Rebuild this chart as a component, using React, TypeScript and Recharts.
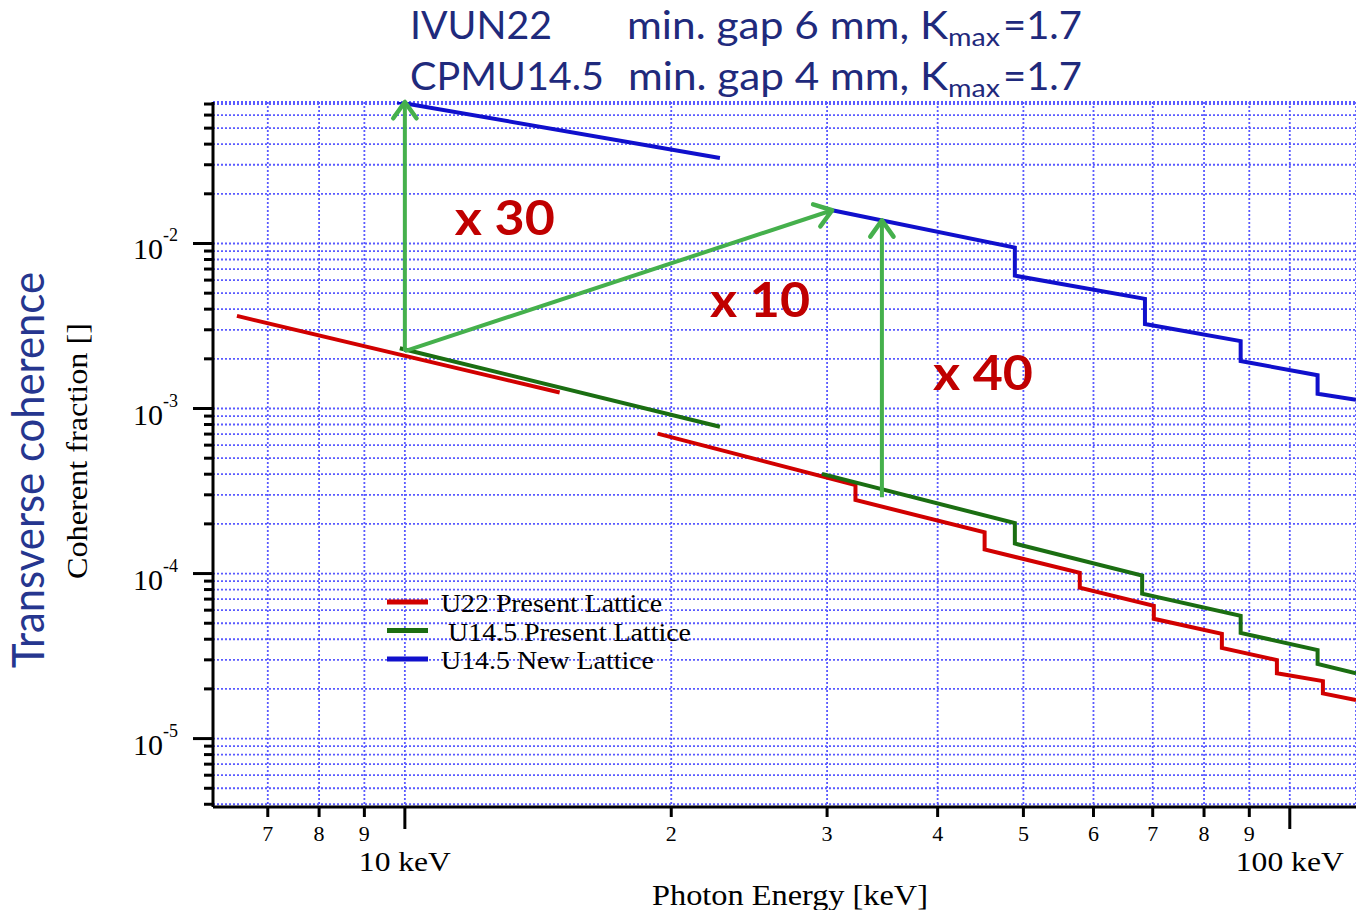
import React from 'react';
import {
  LineChart,
  Line,
  XAxis,
  YAxis,
  CartesianGrid,
  Legend,
  ReferenceLine,
  ReferenceDot,
} from 'recharts';

// Photon energy [keV] and coherent fraction for each source.
// A null fraction splits a curve into its two harmonic branches.
const u22Energy = [6.46, 14.96, 17, 19.3, 32.3, 32.3, 45.2, 45.2, 57.9, 57.9, 70.2, 70.2, 83.8, 83.8, 96.7, 96.7, 109.0, 109.0, 118.8];
const u22Fraction = [3.64e-3, 1.25e-3, null, 7.05e-4, 3.44e-4, 2.79e-4, 1.78e-4, 1.4e-4, 1.01e-4, 8.22e-5, 6.38e-5, 5.32e-5, 4.31e-5, 3.54e-5, 2.99e-5, 2.49e-5, 2.23e-5, 1.88e-5, 1.71e-5];

const u145PresentEnergy = [9.87, 22.7, 26, 29.6, 48.9, 48.9, 68.1, 68.1, 88.0, 88.0, 107.5, 107.5, 118.8];
const u145PresentFraction = [2.32e-3, 7.76e-4, null, 4.02e-4, 2.02e-4, 1.52e-4, 9.73e-5, 7.55e-5, 5.54e-5, 4.37e-5, 3.44e-5, 2.83e-5, 2.49e-5];

const u145NewEnergy = [9.8, 22.7, 26, 30.4, 48.9, 48.9, 68.6, 68.6, 88.0, 88.0, 107.5, 107.5, 118.8];
const u145NewFraction = [0.072, 0.033, null, 0.0159, 0.00945, 0.00638, 0.00462, 0.00325, 0.00256, 0.00194, 0.00159, 0.00123, 0.00113];

const xTicks = [7, 8, 9, 10, 20, 30, 40, 50, 60, 70, 80, 90, 100];
const yTicks = [
  4e-6, 5e-6, 6e-6, 7e-6, 8e-6, 9e-6,
  1e-5, 2e-5, 3e-5, 4e-5, 5e-5, 6e-5, 7e-5, 8e-5, 9e-5,
  1e-4, 2e-4, 3e-4, 4e-4, 5e-4, 6e-4, 7e-4, 8e-4, 9e-4,
  1e-3, 2e-3, 3e-3, 4e-3, 5e-3, 6e-3, 7e-3, 8e-3, 9e-3,
  1e-2, 2e-2, 3e-2, 4e-2, 5e-2, 6e-2, 7e-2,
];

const seriesNames = ['U22 Present Lattice', 'U14.5 Present Lattice', 'U14.5 New Lattice'];

// gain arrows (energy, fraction) and their factors
const gainArrows = [
  { from: { x: 10, y: 2.23e-3 }, to: { x: 10, y: 0.072 } },
  { from: { x: 10, y: 2.23e-3 }, to: { x: 30.4, y: 0.0159 } },
  { from: { x: 34.6, y: 2.9e-4 }, to: { x: 34.6, y: 0.0138 } },
];
const gainLabels = [
  { x: 12.97, y: 0.0146, text: 'x 30' },
  { x: 25.2, y: 4.62e-3, text: 'x 10' },
  { x: 45.0, y: 1.68e-3, text: 'x 40' },
];

const zip = (e: number[], f: (number | null)[]) => e.map((v, i) => ({ e: v, f: f[i] }));

const SERIF = 'Liberation Serif, Times New Roman, serif';
const SANS = 'Lato, Open Sans, sans-serif';
const NAVY = '#1f2a7c';
const ARROW = '#45b04c';

const YTick = (props: any) => {
  const { x, y, payload } = props;
  const v = payload.value;
  const exp = Math.round(Math.log10(v));
  const major = Math.abs(v / Math.pow(10, exp) - 1) < 1e-6;
  return (
    <g>
      <line x1={x - (major ? 20 : 9)} x2={x} y1={y} y2={y} stroke="#000" strokeWidth={3} />
      {major && (
        <text x={x - 80} y={y + 16} fontFamily={SERIF} fontSize={30} fill="#000">
          10
          <tspan dy={-18} fontSize={18}>{String(exp)}</tspan>
        </text>
      )}
    </g>
  );
};

const XTick = (props: any) => {
  const { x, y, payload } = props;
  const v = payload.value;
  const major = v === 10 || v === 100;
  const digit = v >= 10 ? Math.round(v / 10) : v;
  return (
    <g>
      <line x1={x} x2={x} y1={y} y2={y + (major ? 22 : 10)} stroke="#000" strokeWidth={3} />
      {major ? (
        <text
          x={x}
          y={y + 64}
          textAnchor="middle"
          fontFamily={SERIF}
          fontSize={27}
          fill="#000"
          textLength={v === 10 ? 92 : 108}
          lengthAdjust="spacingAndGlyphs"
        >
          {v} keV
        </text>
      ) : (
        <text x={x} y={y + 34} textAnchor="middle" fontFamily={SERIF} fontSize={22} fill="#000">
          {digit}
        </text>
      )}
    </g>
  );
};

const Arrow = (props: any) => {
  const { x1, y1, x2, y2 } = props;
  const ang = Math.atan2(y2 - y1, x2 - x1);
  const len = 20;
  const spread = 0.62;
  const a = [x2 - len * Math.cos(ang - spread), y2 - len * Math.sin(ang - spread)];
  const b = [x2 - len * Math.cos(ang + spread), y2 - len * Math.sin(ang + spread)];
  return (
    <g>
      <line x1={x1} y1={y1} x2={x2} y2={y2} stroke={ARROW} strokeWidth={4} />
      <polyline
        points={`${a[0]},${a[1]} ${x2},${y2} ${b[0]},${b[1]}`}
        fill="none"
        stroke={ARROW}
        strokeWidth={4.5}
        strokeLinecap="round"
        strokeLinejoin="round"
      />
    </g>
  );
};

const legendText = [
  { x: 61, w: 221 },
  { x: 68, w: 243 },
  { x: 61, w: 213 },
];

const LegendBox = (props: any) => {
  const { payload = [] } = props;
  const entries = seriesNames
    .map((name) => payload.find((p: any) => p.value === name))
    .filter(Boolean);
  return (
    <svg width={330} height={95}>
      {entries.map((entry: any, i: number) => {
        const cy = 17 + i * 28.5;
        return (
          <g key={entry.value}>
            <line x1={7} x2={48} y1={cy} y2={cy} stroke={entry.color} strokeWidth={5} />
            <text
              x={legendText[i].x}
              y={cy + 10}
              fontFamily={SERIF}
              fontSize={26}
              fill="#000"
              textLength={legendText[i].w}
              lengthAdjust="spacingAndGlyphs"
            >
              {entry.value}
            </text>
          </g>
        );
      })}
    </svg>
  );
};

export default function App() {
  return (
    <div style={{ position: 'absolute', left: 0, top: 0, width: 1356, height: 910, background: '#fff' }}>
      <LineChart width={1356} height={910} margin={{ top: 102, right: 0, bottom: 0, left: 0 }}>
        <CartesianGrid stroke="#5a5aff" strokeDasharray="2 2" strokeWidth={1.8} />
        <XAxis
          dataKey="e"
          type="number"
          scale="log"
          domain={[6.07, 118.8]}
          allowDataOverflow
          ticks={xTicks}
          interval={0}
          height={103}
          tickSize={0}
          tickMargin={0}
          tickLine={false}
          axisLine={{ stroke: '#000', strokeWidth: 3 }}
          tick={<XTick />}
        />
        <YAxis
          type="number"
          scale="log"
          domain={[3.85e-6, 0.072]}
          allowDataOverflow
          ticks={yTicks}
          interval={0}
          width={213}
          tickSize={0}
          tickMargin={0}
          tickLine={false}
          axisLine={{ stroke: '#000', strokeWidth: 3 }}
          tick={<YTick />}
        />
        <Line
          data={zip(u22Energy, u22Fraction)}
          dataKey="f"
          name={seriesNames[0]}
          type="linear"
          stroke="#d10000"
          strokeWidth={4}
          dot={false}
          activeDot={false}
          isAnimationActive={false}
        />
        <Line
          data={zip(u145PresentEnergy, u145PresentFraction)}
          dataKey="f"
          name={seriesNames[1]}
          type="linear"
          stroke="#1b6e12"
          strokeWidth={4}
          dot={false}
          activeDot={false}
          isAnimationActive={false}
        />
        <Line
          data={zip(u145NewEnergy, u145NewFraction)}
          dataKey="f"
          name={seriesNames[2]}
          type="linear"
          stroke="#1010cc"
          strokeWidth={4}
          dot={false}
          activeDot={false}
          isAnimationActive={false}
        />
        {gainArrows.map((a, i) => (
          <ReferenceLine key={i} segment={[a.from, a.to]} ifOverflow="visible" shape={<Arrow />} />
        ))}
        {gainLabels.map((l) => (
          <ReferenceDot
            key={l.text}
            x={l.x}
            y={l.y}
            r={0}
            ifOverflow="visible"
            shape={(p: any) => (
              <text
                x={p.cx}
                y={p.cy}
                textAnchor="middle"
                dominantBaseline="central"
                fontFamily={SANS}
                fontWeight={700}
                fontSize={48}
                fill="#c00000"
                textLength={100}
                lengthAdjust="spacingAndGlyphs"
              >
                {l.text}
              </text>
            )}
          />
        ))}
        <Legend
          layout="horizontal"
          verticalAlign="middle"
          align="center"
          content={<LegendBox />}
          wrapperStyle={{ position: 'absolute', left: 380, top: 585, width: 330, height: 95 }}
        />
      </LineChart>
      <svg
        width={1356}
        height={910}
        style={{ position: 'absolute', left: 0, top: 0, pointerEvents: 'none' }}
      >
        <g fontFamily={SANS} fill={NAVY}>
          <text x={410} y={39} fontSize={38} textLength={142} lengthAdjust="spacingAndGlyphs">IVUN22</text>
          <text x={627} y={39} fontSize={38} textLength={321} lengthAdjust="spacingAndGlyphs">min. gap 6 mm, K</text>
          <text x={948} y={46} fontSize={25} textLength={52} lengthAdjust="spacingAndGlyphs">max</text>
          <text x={1003} y={39} fontSize={38} textLength={79} lengthAdjust="spacingAndGlyphs">=1.7</text>
          <text x={410} y={90} fontSize={38} textLength={194} lengthAdjust="spacingAndGlyphs">CPMU14.5</text>
          <text x={628} y={90} fontSize={38} textLength={320} lengthAdjust="spacingAndGlyphs">min. gap 4 mm, K</text>
          <text x={948} y={97} fontSize={25} textLength={52} lengthAdjust="spacingAndGlyphs">max</text>
          <text x={1003} y={90} fontSize={38} textLength={79} lengthAdjust="spacingAndGlyphs">=1.7</text>
        </g>
        <text
          transform="translate(44,470) rotate(-90)"
          textAnchor="middle"
          fontFamily={SANS}
          fontSize={44}
          fill="#26368f"
          textLength={396}
          lengthAdjust="spacingAndGlyphs"
        >
          Transverse coherence
        </text>
        <text
          transform="translate(87,451) rotate(-90)"
          textAnchor="middle"
          fontFamily={SERIF}
          fontSize={30}
          fill="#000"
          textLength={256}
          lengthAdjust="spacingAndGlyphs"
        >
          Coherent fraction []
        </text>
        <text
          x={790}
          y={905}
          textAnchor="middle"
          fontFamily={SERIF}
          fontSize={30}
          fill="#000"
          textLength={276}
          lengthAdjust="spacingAndGlyphs"
        >
          Photon Energy [keV]
        </text>
      </svg>
    </div>
  );
}
